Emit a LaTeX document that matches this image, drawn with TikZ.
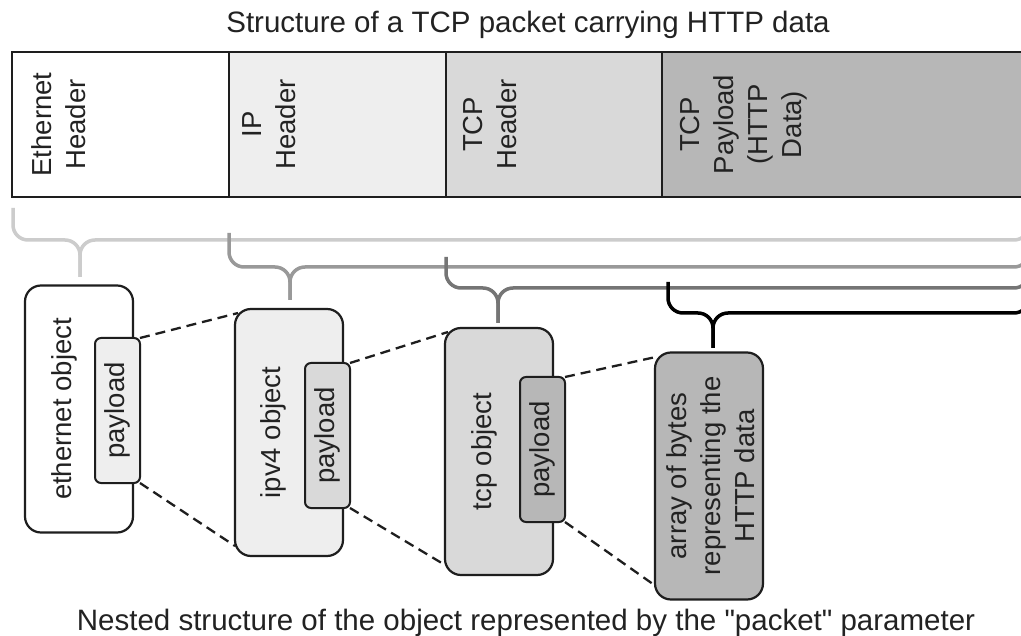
\documentclass[tikz,border=0pt]{standalone}
\usepackage{fontspec}
\setmainfont{Liberation Sans}
\newfontfamily\rawfont{Liberation Sans}
\definecolor{fillA}{HTML}{EEEEEE}
\definecolor{fillB}{HTML}{D9D9D9}
\definecolor{fillC}{HTML}{B7B7B7}
\definecolor{txt}{HTML}{222222}
\definecolor{lineC}{HTML}{1E1E1E}
\definecolor{braceA}{HTML}{CCCCCC}
\definecolor{braceB}{HTML}{999999}
\definecolor{braceC}{HTML}{757575}
\newcommand\pktbrace[7]{%
  \draw[#1, line width=3.5pt, rounded corners=15pt] (#2,#3) -- (#2,#4) -- (#5,#4) -- (#5,#6);
  \draw[#1, line width=3.5pt, rounded corners=15pt] (#7,#3) -- (#7,#4) -- (#5,#4) -- (#5,#6);
}
\begin{document}
\begin{tikzpicture}[x=1pt,y=-1pt,
  txtfont/.style={font=\fontsize{27.5}{34}\selectfont},
  cell/.style={draw=lineC, line width=2.4pt},
  lbl/.style={rotate=90, inner sep=0pt, outer sep=0pt, text=txt, align=center, txtfont},
  obj/.style={draw=lineC, line width=2.2pt, rounded corners=16pt, minimum width=108pt, minimum height=247pt, inner sep=0pt, outer sep=0pt},
  pay/.style={draw=lineC, line width=2pt, rounded corners=6pt, minimum width=45pt, minimum height=145pt, inner sep=0pt, outer sep=0pt},
  dashline/.style={draw=lineC, line width=2.3pt, dash pattern=on 10pt off 6pt},
  caption/.style={inner sep=0pt, text=txt, font=\fontsize{29.5}{35}\selectfont}
]
\useasboundingbox (0,0) rectangle (1021,636);
\clip (0,0) rectangle (1021,636);
\fill[white] (0,0) rectangle (1021,636);

% title
\node[caption, anchor=base] (title) at (528,33) {Structure of a TCP packet carrying HTTP data};

% packet cells
\draw[cell, fill=white] (12,52) rectangle (229,197);
\draw[cell, fill=fillA] (229,52) rectangle (446,197);
\draw[cell, fill=fillB] (446,52) rectangle (662,197);
\draw[cell, fill=fillC] (662,52) rectangle (1040,197);
\node[lbl, anchor=north] (hEth) at (32,124.5) {Ethernet\\Header};
\node[lbl, anchor=north] (hIP) at (243,124.5) {IP\\Header};
\node[lbl, anchor=north] (hTCP) at (463,124.5) {TCP\\Header};
\node[lbl, anchor=north] (hPay) at (680,124.5) {TCP\\Payload\\(HTTP\\Data)};

% braces
\pktbrace{braceA}{13}{208}{240}{80}{277}{1029}
\pktbrace{braceB}{229}{233}{267}{290}{300}{1029}
\pktbrace{braceC}{446}{257}{288}{498}{323}{1029}
\pktbrace{black}{668}{282}{313}{713}{348}{1029}

% objects
\node[obj, fill=white] (o1) at (79,409) {};
\node[obj, fill=fillA] (o2) at (289,432.5) {};
\node[obj, fill=fillB] (o3) at (499,451.5) {};
\node[obj, fill=fillC] (o4) at (709,476) {};

\node[lbl, anchor=north] (t1) at (52,409) {ethernet object};
\node[lbl, anchor=north] (t2) at (261,432.5) {ipv4 object};
\node[lbl, anchor=north] (t3) at (472,451.5) {tcp object};
\node[lbl] (t4) at (711,476) {array of bytes\\representing the\\HTTP data};

% payload boxes
\node[pay, fill=fillA] (p1) at (117.5,410.5) {};
\node[pay, fill=fillB] (p2) at (327.5,435.5) {};
\node[pay, fill=fillC] (p3) at (542.5,449.5) {};
\node[lbl] (q1) at (p1) {payload};
\node[lbl] (q2) at (p2) {payload};
\node[lbl] (q3) at (p3) {payload};

% dashed connectors
\draw[dashline] (p1.north east) -- ([xshift=3pt,yshift=-4pt]o2.north west);
\draw[dashline] (p1.south east) -- ([yshift=10pt]o2.south west);
\draw[dashline] (p2.north east) -- ([xshift=3pt,yshift=-4pt]o3.north west);
\draw[dashline] (p2.south east) -- ([yshift=10pt]o3.south west);
\draw[dashline] (p3.north east) -- ([xshift=3pt,yshift=-4pt]o4.north west);
\draw[dashline] (p3.south east) -- ([yshift=14pt]o4.south west);

% caption
\node[caption, anchor=base] (cap) at (526,630) {\rawfont Nested structure of the object represented by the "packet" parameter};
\end{tikzpicture}
\end{document}
